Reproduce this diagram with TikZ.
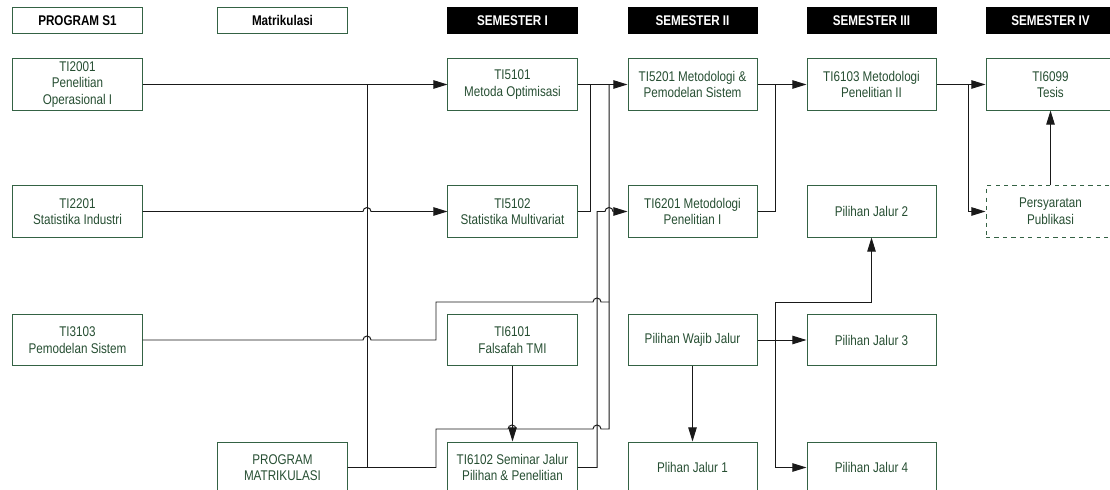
\documentclass[tikz,border=0pt]{standalone}
\usepackage{fontspec}
\setmainfont[FakeStretch=0.83]{Liberation Sans}
\usepackage{tikz}
\usetikzlibrary{arrows.meta}
\definecolor{rahmen}{RGB}{52,98,68}
\definecolor{schrift}{RGB}{38,78,50}
\definecolor{linie}{RGB}{25,25,25}

\begin{document}
\begin{tikzpicture}[x=0.025cm, y=-0.025cm,
    kasten/.style={draw=rahmen, line width=0.7pt, text=schrift, minimum width=3.225cm, minimum height=1.275cm, inner sep=0pt, align=center, font=\fontsize{10}{11.8}\selectfont},
    kopf/.style={draw=rahmen, line width=0.7pt, minimum width=3.225cm, minimum height=0.625cm, inner sep=0pt, font=\fontsize{10}{12}\selectfont\bfseries},
    semkopf/.style={kopf, draw=black, fill=black, text=white},
    verb/.style={draw=linie, line width=0.7pt},
    pfeil/.style={verb, -{Triangle[length=10pt, width=6pt]}}]

    \useasboundingbox (0,0) rectangle (1110,490);
    \clip (0,0) rectangle (1110,490);

    % Kopfzeile
    \node[kopf] (hs1) at (77.5,20.5) {PROGRAM S1};
    \node[kopf] (hmat) at (282.5,20.5) {Matrikulasi};
    \node[semkopf] (hsem1) at (512.5,20.5) {SEMESTER I};
    \node[semkopf] (hsem2) at (692.5,20.5) {SEMESTER II};
    \node[semkopf] (hsem3) at (871.5,20.5) {SEMESTER III};
    \node[semkopf] (hsem4) at (1050.5,20.5) {SEMESTER IV};

    % Program S1 und Matrikulasi
    \node[kasten] (ti2001) at (77.5,84.5) {TI2001\\Penelitian\\Operasional I};
    \node[kasten] (ti2201) at (77.5,211.5) {TI2201\\Statistika Industri};
    \node[kasten] (ti3103) at (77.5,340) {TI3103\\Pemodelan Sistem};
    \node[kasten] (prmat) at (282.5,467.5) {PROGRAM\\MATRIKULASI};

    % Semester I
    \node[kasten] (ti5101) at (512.5,84.5) {TI5101\\Metoda Optimisasi};
    \node[kasten] (ti5102) at (512.5,211.5) {TI5102\\Statistika Multivariat};
    \node[kasten] (ti6101) at (512.5,340) {TI6101\\Falsafah TMI};
    \node[kasten] (ti6102) at (512.5,467.5) {TI6102 Seminar Jalur\\Pilihan \& Penelitian};

    % Semester II
    \node[kasten] (ti5201) at (692.5,84.5) {TI5201 Metodologi \&\\Pemodelan Sistem};
    \node[kasten] (ti6201) at (692.5,211.5) {TI6201 Metodologi\\Penelitian I};
    \node[kasten] (wajib) at (692.5,340) {Pilihan Wajib Jalur};
    \node[kasten] (jalur1) at (692.5,467.5) {Plihan Jalur 1};

    % Semester III
    \node[kasten] (ti6103) at (871.5,84.5) {TI6103 Metodologi\\Penelitian II};
    \node[kasten] (jalur2) at (871.5,211.5) {Pilihan Jalur 2};
    \node[kasten] (jalur3) at (871.5,340) {Pilihan Jalur 3};
    \node[kasten] (jalur4) at (871.5,467.5) {Pilihan Jalur 4};

    % Semester IV
    \node[kasten] (ti6099) at (1050.5,84.5) {TI6099\\Tesis};
    \node[kasten, dashed] (publ) at (1050.5,211.5) {Persyaratan\\Publikasi};

    % Verbindungen zu Semester I
    \draw[pfeil] (ti2001.east) -- (ti5101.west);
    \draw[pfeil] (ti2201.east) -- (363,211.5) arc[start angle=180, end angle=360, radius=4] -- (ti5102.west);
    \draw[verb] (prmat.east) -- (367,467.5) -- (367,84.5);
    \draw[verb] (ti3103.east) -- (363,340) arc[start angle=180, end angle=360, radius=4]
        -- (436,340) -- (436,302) -- (593,302) arc[start angle=180, end angle=360, radius=4] -- (609,302);
    \draw[verb] (prmat.east) -- (436,467.5) -- (436,429) -- (508,429) arc[start angle=180, end angle=360, radius=4]
        -- (593,429) arc[start angle=180, end angle=360, radius=4] -- (609,429) -- (609,84.5);
    \draw[pfeil] (ti6101.south) -- (ti6102.north);

    % Verbindungen zu Semester II
    \draw[pfeil] (ti5101.east) -- (ti5201.west);
    \draw[verb] (ti5102.east) -- (590,211.5) -- (590,84.5);
    \draw[pfeil] (ti6102.east) -- (597,467.5) -- (597,211.5) -- (605,211.5) arc[start angle=180, end angle=360, radius=4] -- (ti6201.west);
    \draw[pfeil] (wajib.south) -- (jalur1.north);

    % Verbindungen zu Semester III
    \draw[pfeil] (ti5201.east) -- (ti6103.west);
    \draw[verb] (ti6201.east) -- (775,211.5) -- (775,84.5);
    \draw[pfeil] (wajib.east) -- (jalur3.west);
    \draw[pfeil] (wajib.east) -- (775,340) |- (jalur4.west);
    \draw[pfeil] (wajib.east) -- (775,340) -- (775,302) -| (jalur2.south);

    % Verbindungen zu Semester IV
    \draw[pfeil] (ti6103.east) -- (ti6099.west);
    \draw[pfeil] (ti6103.east) -- (968,84.5) |- (publ.west);
    \draw[pfeil] (publ.north) -- (ti6099.south);

\end{tikzpicture}
\end{document}
